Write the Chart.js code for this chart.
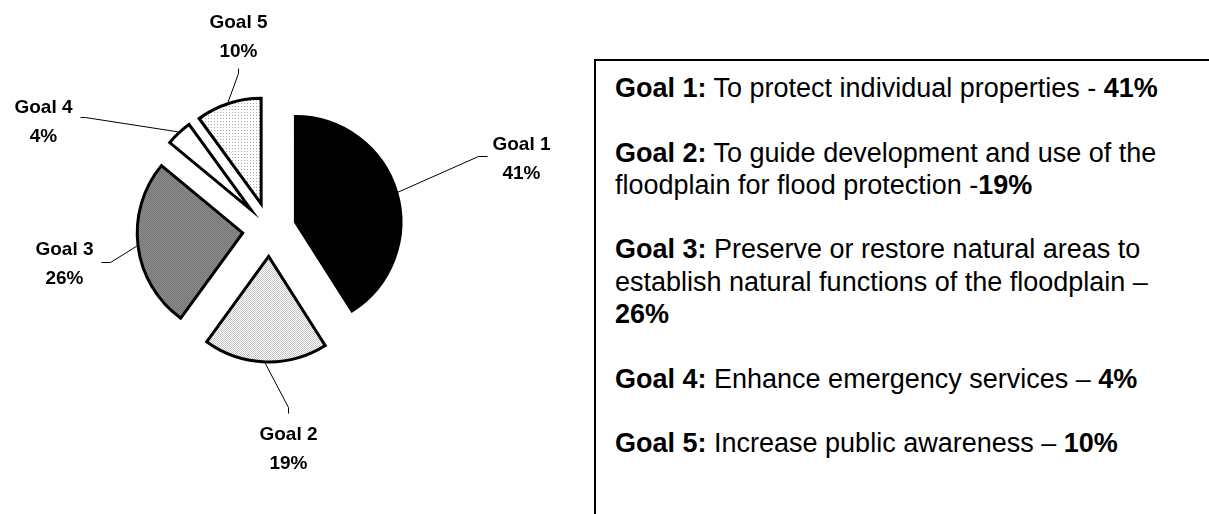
<!DOCTYPE html>
<html>
<head>
<meta charset="utf-8">
<script src="https://cdn.jsdelivr.net/npm/chart.js@4.4.1/dist/chart.umd.min.js"></script>
<style>
  body { margin: 0; background: #fff; width: 1209px; height: 514px; overflow: hidden; position: relative;
         font-family: "Liberation Sans", Arial, sans-serif; color: #000; }
  #pie-wrap { position: absolute; left: 0; top: 0; width: 560px; height: 514px; }
  #goal-box { position: absolute; left: 594px; top: 59px; width: 700px; height: 600px;
              border: 2px solid #000; box-sizing: border-box; }
  #goal-list { position: absolute; left: 19px; top: 11px; font-size: 27px; line-height: 32.3px; white-space: nowrap; }
  #goal-list p { margin: 0 0 32.3px 0; white-space: pre-line; }
</style>
</head>
<body>
<div id="pie-wrap"><canvas id="pie"></canvas></div>
<div id="goal-box"><div id="goal-list"></div></div>
<script>
//-------------------Data-------------------
const categories = ['Goal 1', 'Goal 2', 'Goal 3', 'Goal 4', 'Goal 5'];
const shares = [41, 19, 26, 4, 10];
const goalDescriptions = [
  'To protect individual properties - ',
  'To guide development and use of the\nfloodplain for flood protection -',
  'Preserve or restore natural areas to\nestablish natural functions of the floodplain \u2013\n',
  'Enhance emergency services \u2013 ',
  'Increase public awareness \u2013 '
];

//-------------------Layout-------------------
const EXPLODE = 27;      // how far each slice is pulled out from the centre
const LABEL_FONT = 'bold 19px "Liberation Sans", Arial, sans-serif';
// label block centre relative to pie centre, then leader start / elbow relative to label centre
const labelPlace = [
  { dx: 252, dy: -72, start: [-34, -1], elbow: [-43, -1] },
  { dx: 19, dy: 218, start: [0, -34], elbow: [0, -40] },
  { dx: -205, dy: 33, start: [37, 0], elbow: [46, 0] },
  { dx: -226, dy: -109, start: [37, -3], elbow: [42, -3] },
  { dx: -31, dy: -194, start: [0, 33], elbow: [0, 38] }
];

//-------------------Fill patterns-------------------
function makePattern(size, base, dot, cells) {
  const c = document.createElement('canvas');
  c.width = size; c.height = size;
  const g = c.getContext('2d');
  g.fillStyle = base;
  g.fillRect(0, 0, size, size);
  g.fillStyle = dot;
  cells.forEach(p => g.fillRect(p[0], p[1], 1, 1));
  return g.createPattern(c, 'repeat');
}

const fills = [
  '#000000',
  makePattern(2, '#ffffff', '#c4c4c4', [[0, 0], [1, 1]]),
  makePattern(2, '#8c8c8c', '#767676', [[0, 0], [1, 1]]),
  '#ffffff',
  makePattern(3, '#ffffff', '#a8a8a8', [[1, 1]])
];

//-------------------Plugins-------------------
function pieCentre(chart) {
  const a = chart.chartArea;
  return { x: (a.left + a.right) / 2, y: (a.top + a.bottom) / 2 };
}

// pull every slice out along its middle angle
const explodePlugin = {
  id: 'explode',
  beforeDatasetsDraw(chart) {
    const c = pieCentre(chart);
    chart.getDatasetMeta(0).data.forEach(arc => {
      const mid = (arc.startAngle + arc.endAngle) / 2;
      arc.x = c.x + Math.cos(mid) * EXPLODE;
      arc.y = c.y + Math.sin(mid) * EXPLODE;
    });
  }
};

// "Goal n / nn%" labels with leader lines to the slice edge
const labelPlugin = {
  id: 'sliceLabels',
  afterDatasetsDraw(chart) {
    const ctx = chart.ctx;
    const c = pieCentre(chart);
    ctx.save();
    chart.getDatasetMeta(0).data.forEach((arc, i) => {
      const mid = (arc.startAngle + arc.endAngle) / 2;
      const r = arc.outerRadius + 1.5;
      const px = arc.x + Math.cos(mid) * r;
      const py = arc.y + Math.sin(mid) * r;
      const pl = labelPlace[i];
      const lx = c.x + pl.dx, ly = c.y + pl.dy;

      ctx.strokeStyle = '#000';
      ctx.lineWidth = 1;
      ctx.beginPath();
      ctx.moveTo(lx + pl.start[0], ly + pl.start[1]);
      ctx.lineTo(lx + pl.elbow[0], ly + pl.elbow[1]);
      ctx.lineTo(px, py);
      ctx.stroke();

      ctx.fillStyle = '#000';
      ctx.font = LABEL_FONT;
      ctx.textAlign = 'center';
      ctx.textBaseline = 'alphabetic';
      ctx.fillText(categories[i], lx, ly - 14.25 + 6.8);
      ctx.fillText(shares[i] + '%', lx, ly + 14.25 + 6.8);
    });
    ctx.restore();
  }
};

//-------------------Chart-------------------
const pieChart = new Chart(document.getElementById('pie'), {
  type: 'pie',
  data: {
    labels: categories,
    datasets: [{
      data: shares,
      backgroundColor: fills,
      borderColor: '#000',
      borderWidth: 3,
      borderJoinStyle: 'miter',
      offset: 0
    }]
  },
  options: {
    responsive: true,
    maintainAspectRatio: false,
    animation: false,
    events: [],
    radius: 105.5,
    layout: { padding: { left: 0, right: 21, top: 0, bottom: 55 } },
    plugins: {
      legend: { display: false },
      tooltip: { enabled: false }
    }
  },
  plugins: [explodePlugin, labelPlugin]
});

//-------------------Goal descriptions box-------------------
const list = document.getElementById('goal-list');
for (let i = 0; i < categories.length; i++) {
  const p = document.createElement('p');
  const name = document.createElement('b');
  name.textContent = categories[i] + ':';
  const share = document.createElement('b');
  share.textContent = shares[i] + '%';
  p.appendChild(name);
  p.appendChild(document.createTextNode(' ' + goalDescriptions[i]));
  p.appendChild(share);
  list.appendChild(p);
}
</script>
</body>
</html>
